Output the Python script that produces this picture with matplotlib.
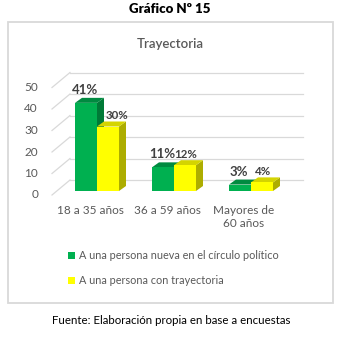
import matplotlib
matplotlib.use('Agg')
from matplotlib import pyplot as plt
from matplotlib.patches import Polygon, Rectangle, Patch

plt.rcParams['font.family'] = ['Lato', 'DejaVu Sans']

categories = ['18 a 35 años', '36 a 59 años', 'Mayores de\n60 años']
nueva = [41, 11, 3]
trayectoria = [30, 12, 4]
series_names = ['A una persona nueva en el círculo político',
				'A una persona con trayectoria']
yticks = [0, 10, 20, 30, 40, 50]

W, H = 360, 338
fig = plt.figure(figsize=(W / 100, H / 100), dpi=100)

# axes placed in pixels; data x = category index, y = value
px_x = 77.0    # pixels per category
px_y = 2.15    # pixels per unit
ax_left, ax_right, ax_top, ax_bot = 20, 320, 60, 200
ax = fig.add_axes([ax_left / W, (H - ax_bot) / H, (ax_right - ax_left) / W,
				   (ax_bot - ax_top) / H])
x0_px, y0_px = 97, 191
ax.set_xlim((ax_left - x0_px) / px_x, (ax_right - x0_px) / px_x)
ax.set_ylim((y0_px - ax_bot) / px_y, (y0_px - ax_top) / px_y)
ax.axis('off')


def dx(p):
	return p / px_x


def dy(p):
	return p / px_y


# walls / gridlines
grid_c = '#D9D9D9'
front_x = dx(52 - x0_px)
back_x = front_x + dx(18)
end_x = dx(303 - x0_px)
for v in yticks:
	yf = v - dy(4)
	yb = yf + dy(15)
	ax.plot([front_x, back_x], [yf, yb], color=grid_c, lw=0.9, zorder=1)
	ax.plot([back_x, end_x], [yb, yb], color=grid_c, lw=0.9, zorder=1)
	ax.text(front_x - dx(14), yf, str(v), ha='right', va='center',
			fontsize=8.5, color='#595959')

# 3d bars
bw = dx(22)
ddx, ddy = dx(7), dy(5)
styles = [('#00B050', '#008A40', '#007A37'), ('#FFFF00', '#D4D400', '#ADAD00')]


def bar3d(x, h, cols):
	front, top, side = cols
	ax.add_patch(Polygon([(x + bw, 0), (x + bw + ddx, ddy), (x + bw + ddx, h + ddy),
						  (x + bw, h)], closed=True, fc=side, ec='none', zorder=3))
	ax.add_patch(Polygon([(x, h), (x + ddx, h + ddy), (x + bw + ddx, h + ddy),
						  (x + bw, h)], closed=True, fc=top, ec='none', zorder=3))
	ax.add_patch(Rectangle((x, 0), bw, h, fc=front, ec='none', zorder=3))


for i in range(len(categories)):
	bar3d(i - bw, nueva[i], styles[0])
	bar3d(i, trayectoria[i], styles[1])
	ax.text(i - bw / 2 - dx(1), nueva[i] + dy(13), '%d%%' % nueva[i], ha='center',
			va='center', fontsize=9.5, fontweight='bold', color='#404040', zorder=5)
	shift = ddx + dx(2) if nueva[i] > trayectoria[i] + 5 else dx(1)
	ax.text(i + bw / 2 + shift, trayectoria[i] + dy(11), '%d%%' % trayectoria[i],
			ha='center', va='center', fontsize=8.3, fontweight='bold',
			color='#404040', zorder=5)
	ax.text(i - dx(7), dy(-14), categories[i], ha='center', va='top',
			fontsize=8.5, color='#595959', linespacing=1.25)

# legend
handles = [Patch(fc=styles[0][0], ec='none'), Patch(fc=styles[1][0], ec='none')]
fig.legend(handles, series_names, loc='upper left',
		   bbox_to_anchor=(64 / W, 1 - 246 / H), frameon=False, fontsize=7.8,
		   handlelength=0.6, handleheight=0.6, handletextpad=0.4,
		   labelspacing=1.3, labelcolor='#595959', borderaxespad=0)

# chart title
fig.text(170 / W, 1 - 44 / H, 'Trayectoria', ha='center', va='center',
		 fontsize=9.5, fontweight='semibold', color='#595959')

# border box
fig.patches.append(Rectangle((8 / W, (H - 303) / H), 325 / W, 281 / H,
							 transform=fig.transFigure, fill=False,
							 ec='#D9D9D9', lw=1.3))

# figure caption texts
fig.text(170 / W, 1 - 9 / H, 'Gráfico Nº 15', ha='center', va='center',
		 fontsize=9.5, fontweight='heavy', color='black')
fig.text(171 / W, 1 - 321 / H, 'Fuente: Elaboración propia en base a encuestas',
		 ha='center', va='center', fontsize=8.3, color='black')

fig.savefig('out.png', dpi=100)
